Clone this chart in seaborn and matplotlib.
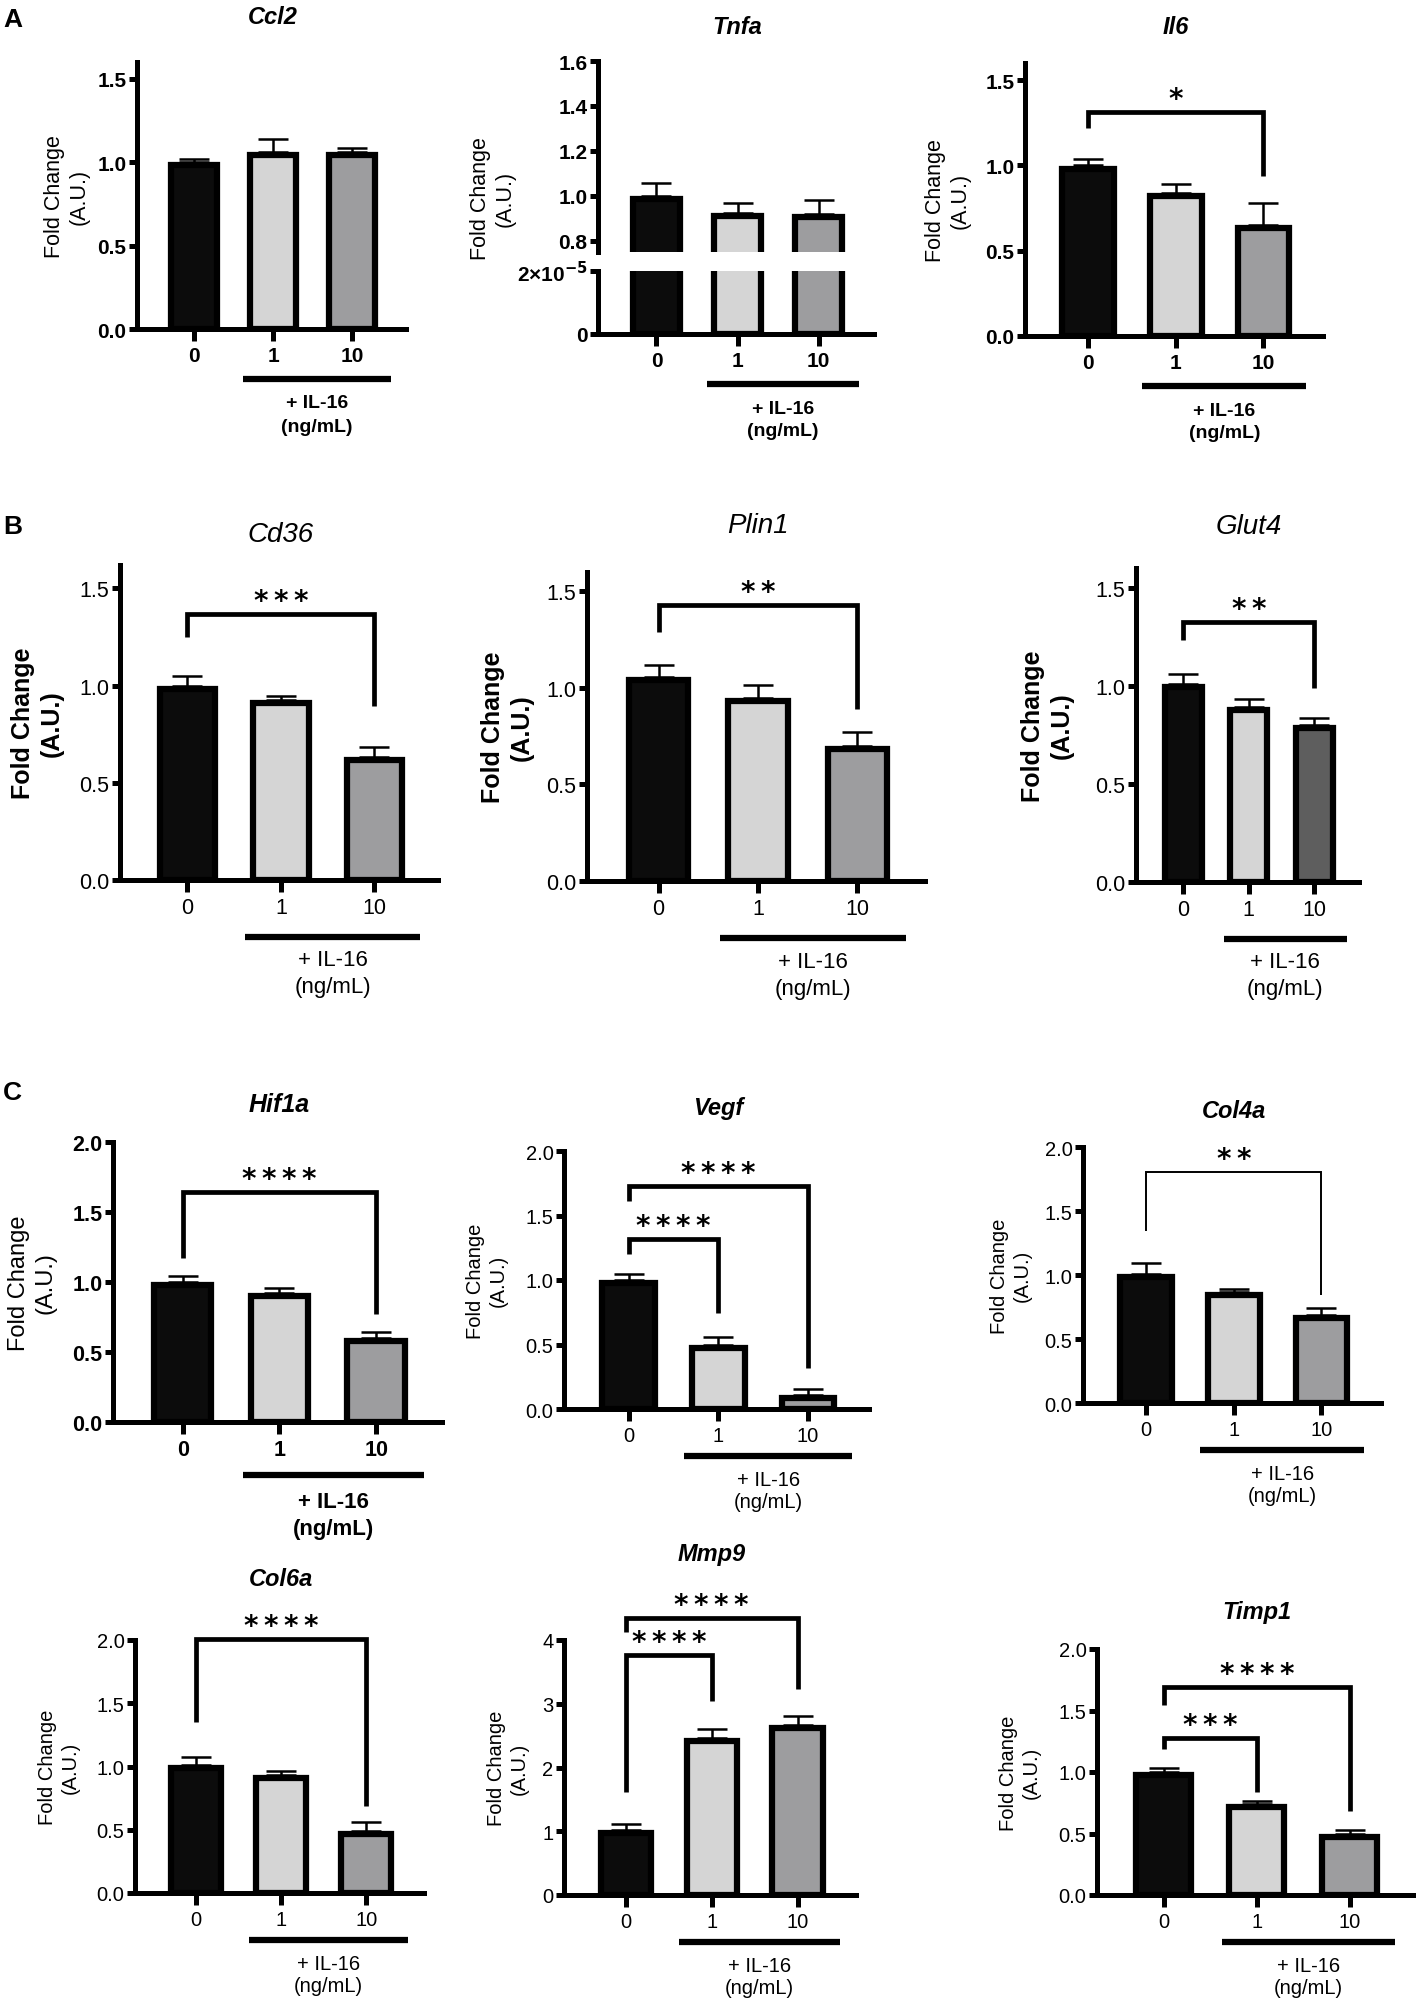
import numpy as np
import seaborn as sns
import matplotlib
matplotlib.use("Agg")
import matplotlib.pyplot as plt
from matplotlib import transforms

# doses of IL-16 (ng/mL)
doses = ["0", "1", "10"]

# mean fold change and SEM
ccl2_mean = [1.00, 1.06, 1.06]
ccl2_sem = [0.02, 0.08, 0.025]
tnfa_mean = [1.00, 0.925, 0.92]
tnfa_sem = [0.055, 0.045, 0.06]
il6_mean = [1.00, 0.84, 0.65]
il6_sem = [0.04, 0.05, 0.13]
cd36_mean = [1.00, 0.925, 0.635]
cd36_sem = [0.05, 0.02, 0.05]
plin1_mean = [1.055, 0.95, 0.70]
plin1_sem = [0.065, 0.065, 0.07]
glut4_mean = [1.01, 0.89, 0.80]
glut4_sem = [0.05, 0.045, 0.035]
hif1a_mean = [1.00, 0.92, 0.60]
hif1a_sem = [0.04, 0.04, 0.04]
vegf_mean = [1.00, 0.50, 0.11]
vegf_sem = [0.05, 0.055, 0.045]
col4a_mean = [1.01, 0.867, 0.685]
col4a_sem = [0.085, 0.025, 0.055]
col6a_mean = [1.01, 0.93, 0.49]
col6a_sem = [0.065, 0.035, 0.075]
mmp9_mean = [1.02, 2.47, 2.67]
mmp9_sem = [0.09, 0.14, 0.14]
timp1_mean = [1.00, 0.74, 0.50]
timp1_sem = [0.035, 0.027, 0.027]

# significance: (from, to, bracket y, left leg end, right leg end, stars)
il6_sig = [(0, 2, 1.31, 1.22, 0.94, "*")]
cd36_sig = [(0, 2, 1.366, 1.25, 0.895, "***")]
plin1_sig = [(0, 2, 1.43, 1.29, 0.893, "**")]
glut4_sig = [(0, 2, 1.327, 1.235, 0.99, "**")]
hif1a_sig = [(0, 2, 1.642, 1.17, 0.77, "****")]
vegf_sig = [(0, 2, 1.729, 1.615, 0.32, "****"), (0, 1, 1.321, 1.20, 0.748, "****")]
col4a_sig = [(0, 2, 1.805, 1.34, 0.84, "**")]
col6a_sig = [(0, 2, 2.01, 1.35, 0.69, "****")]
mmp9_sig = [(0, 2, 4.34, 4.12, 3.23, "****"), (0, 1, 3.76, 1.61, 3.04, "****")]
timp1_sig = [(0, 2, 1.688, 1.547, 0.686, "****"), (0, 1, 1.274, 1.19, 0.835, "***")]

W, H = 1417, 1999
sns.set_theme(style="white")
plt.rcParams["font.family"] = ["Liberation Sans", "DejaVu Sans"]
plt.rcParams.update({"text.color": "black", "axes.labelcolor": "black",
                     "xtick.color": "black", "ytick.color": "black"})

fig = plt.figure(figsize=(W / 100, H / 100), dpi=100)

bar_colors = ["#0c0c0c", "#d5d5d5", "#9d9d9f"]
glut4_colors = ["#0c0c0c", "#d5d5d5", "#5e5e5e"]
EDGE = 4.5  # bar border, points

# text styles per group of panels
looks = {
    "a": dict(tick=15, tick_w="bold", title=17, title_w="bold", ylab=15.5, ylab_w="normal",
              note=14, note_w="bold", offs=(50, 74, 97)),
    "b": dict(tick=15.5, tick_w="normal", title=20, title_w="normal", ylab=18, ylab_w="bold",
              note=16, note_w="normal", offs=(57, 80, 107)),
    "h": dict(tick=15.5, tick_w="bold", title=18, title_w="bold", ylab=17, ylab_w="normal",
              note=16, note_w="bold", offs=(53, 80, 106)),
    "c": dict(tick=14.5, tick_w="normal", title=17, title_w="bold", ylab=14.5, ylab_w="normal",
              note=14.5, note_w="normal", offs=(47, 71, 93)),
}


def rect(x0, x1, y0, y1):
    return [x0 / W, 1 - y1 / H, (x1 - x0) / W, (y1 - y0) / H]


def draw_bars(ax, mean, sem, colors, err=True):
    sns.barplot(x=doses, y=mean, hue=doses, palette=colors, legend=False, ax=ax,
                width=0.66, saturation=1, edgecolor="black", linewidth=EDGE, errorbar=None)
    if err:
        ax.errorbar(np.arange(len(doses)), mean, yerr=[np.zeros(len(mean)), sem],
                    fmt="none", ecolor="black", elinewidth=1.8, capsize=11, capthick=1.8, zorder=0.5)


def inset_borders(ax):
    # Prism draws the bar border inside the bar outline
    half = EDGE / 2 * fig.dpi / 72
    p0 = ax.transData.transform((0, 0))
    p1 = ax.transData.transform((1, 1))
    dx = half / (p1[0] - p0[0])
    dy = half / (p1[1] - p0[1])
    for p in ax.patches:
        p.set_x(p.get_x() + dx)
        p.set_width(p.get_width() - 2 * dx)
        p.set_height(p.get_height() - dy)


def style(ax, ymax, yticks, ylabels, lk, ymin=0):
    ax.set_xlim(-0.72, 2.68)
    ax.set_ylim(ymin, ymax)
    ax.set_yticks(yticks)
    ax.set_yticklabels(ylabels)
    ax.set_xlabel("")
    ax.set_ylabel("")
    ax.patch.set_alpha(0)
    for s in ["top", "right"]:
        ax.spines[s].set_visible(False)
    for s in ["left", "bottom"]:
        ax.spines[s].set_linewidth(3.6)
        ax.spines[s].set_color("black")
    ax.tick_params(axis="y", left=True, length=5.5, width=3.6, labelsize=lk["tick"], pad=2, colors="black")
    ax.tick_params(axis="x", bottom=True, length=8.5, width=3.6, labelsize=lk["tick"], pad=4, colors="black")
    for t in ax.get_xticklabels() + ax.get_yticklabels():
        t.set_fontweight(lk["tick_w"])


def dose_note(ax, lk):
    ul, il, ng = lk["offs"]

    def off(d):
        return transforms.offset_copy(ax.get_xaxis_transform(), fig=fig, y=-d, units="dots")

    ax.plot([0.62, 2.49], [0, 0], color="black", lw=4.5, transform=off(ul),
            clip_on=False, solid_capstyle="butt")
    for txt, d in [("+ IL-16", il), ("(ng/mL)", ng)]:
        ax.text(1.555, 0, txt, transform=off(d), ha="center", va="center",
                fontsize=lk["note"], fontweight=lk["note_w"])


def brackets(ax, sig, lw=3.4):
    for i, j, y, yl, yr, stars in sig:
        ax.plot([i, i, j, j], [yl, y, y, yr], color="black", lw=lw, clip_on=False,
                solid_joinstyle="miter", solid_capstyle="butt")
        ax.annotate("\u2009".join(stars), xy=((i + j) / 2, y), xytext=(0, 5),
                    textcoords="offset pixels", ha="center", va="baseline", fontsize=20,
                    fontweight="bold", family=["DejaVu Sans"], annotation_clip=False)


def title(ax, name, ypx, lk):
    tr = transforms.blended_transform_factory(ax.transData, fig.transFigure)
    ax.text(1, 1 - ypx / H, name, transform=tr, ha="center", va="center",
            fontsize=lk["title"], fontweight=lk["title_w"], style="italic")


def ylab(xpx, top, zero, lk):
    fig.text(xpx / W, 1 - (top + zero) / 2 / H, "Fold Change\n(A.U.)", rotation=90,
             ha="center", va="center", fontsize=lk["ylab"], fontweight=lk["ylab_w"],
             linespacing=1.25)


t16 = ([0, 0.5, 1.0, 1.5], ["0.0", "0.5", "1.0", "1.5"])
t20 = ([0, 0.5, 1.0, 1.5, 2.0], ["0.0", "0.5", "1.0", "1.5", "2.0"])
t4 = ([0, 1, 2, 3, 4], ["0", "1", "2", "3", "4"])

# name, mean, sem, sig, colors, spine_x, end_x, top_y, zero_y, ymax, ticks, title_y, ylabel_dx, look
panels = [
    ("Ccl2", ccl2_mean, ccl2_sem, [], bar_colors, 137, 406, 63, 330, 1.6, t16, 18, 70, "a"),
    ("Il6", il6_mean, il6_sem, il6_sig, bar_colors, 1025, 1323, 64, 337, 1.6, t16, 27, 77, "a"),
    ("Cd36", cd36_mean, cd36_sem, cd36_sig, bar_colors, 120, 438, 566, 881, 1.62, t16, 535, 83, "b"),
    ("Plin1", plin1_mean, plin1_sem, plin1_sig, bar_colors, 587, 925, 573, 882, 1.6, t16, 526, 80, "b"),
    ("Glut4", glut4_mean, glut4_sem, glut4_sig, glut4_colors, 1136, 1359, 569, 883, 1.6, t16, 527, 89, "b"),
    ("Hif1a", hif1a_mean, hif1a_sem, hif1a_sig, bar_colors, 113, 442, 1143, 1423, 2.0, t20, 1105, 81, "h"),
    ("Vegf", vegf_mean, vegf_sem, vegf_sig, bar_colors, 564, 869, 1152, 1410, 2.0, t20, 1108, 77, "c"),
    ("Col4a", col4a_mean, col4a_sem, col4a_sig, bar_colors, 1083, 1381, 1148, 1404, 2.0, t20, 1112, 72, "c"),
    ("Col6a", col6a_mean, col6a_sem, col6a_sig, bar_colors, 135, 424, 1641, 1894, 2.0, t20, 1579, 76, "c"),
    ("Mmp9", mmp9_mean, mmp9_sem, mmp9_sig, bar_colors, 564, 856, 1641, 1896, 4.0, t4, 1555, 56, "c"),
    ("Timp1", timp1_mean, timp1_sem, timp1_sig, bar_colors, 1097, 1413, 1650, 1896, 2.0, t20, 1613, 77, "c"),
]

for name, mean, sem, sig, cols, x0, x1, top, zero, ymax, ticks, ty, dx, look in panels:
    lk = looks[look]
    ax = fig.add_axes(rect(x0, x1, top, zero))
    draw_bars(ax, mean, sem, cols)
    style(ax, ymax, ticks[0], ticks[1], lk)
    inset_borders(ax)
    brackets(ax, sig, lw=1.4 if name == "Col4a" else 3.4)
    dose_note(ax, lk)
    title(ax, name, ty, lk)
    ylab(x0 - dx, top, zero, lk)

# Tnfa with a broken y axis
lk = looks["a"]
ax_hi = fig.add_axes(rect(598, 874, 62, 253))
draw_bars(ax_hi, tnfa_mean, tnfa_sem, bar_colors)
style(ax_hi, 1.6, [0.8, 1.0, 1.2, 1.4, 1.6], ["0.8", "1.0", "1.2", "1.4", "1.6"], lk, ymin=0.75)
inset_borders(ax_hi)
ax_hi.spines["bottom"].set_visible(False)
ax_hi.tick_params(axis="x", bottom=False, labelbottom=False)

ax_lo = fig.add_axes(rect(598, 874, 272, 335))
draw_bars(ax_lo, tnfa_mean, tnfa_sem, bar_colors, err=False)
style(ax_lo, 2.0e-5, [0, 2.0e-5], ["0", r"2×10$^{\mathbf{-5}}$"], lk)
p0, p1 = ax_lo.transData.transform((0, 0)), ax_lo.transData.transform((1, 0))
for p in ax_lo.patches:
    shift = EDGE / 2 * fig.dpi / 72 / (p1[0] - p0[0])
    p.set_x(p.get_x() + shift)
    p.set_width(p.get_width() - 2 * shift)
dose_note(ax_lo, lk)
title(ax_hi, "Tnfa", 28, lk)
ylab(598 - 105, 62, 335, lk)

# panel letters
for letter, ypx in [("A", 20), ("B", 527), ("C", 1093)]:
    fig.text(3 / W, 1 - ypx / H, letter, fontsize=19, fontweight="bold", ha="left", va="center")

fig.savefig("out.png", dpi=100)
